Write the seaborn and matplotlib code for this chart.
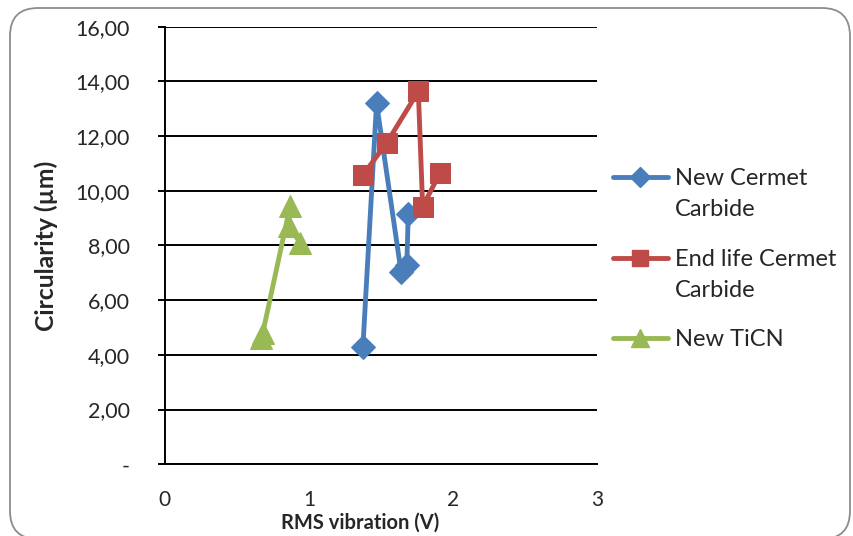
import pandas as pd
import seaborn as sns
import matplotlib.pyplot as plt
from matplotlib.patches import FancyBboxPatch
from matplotlib.lines import Line2D
from matplotlib.transforms import IdentityTransform
from matplotlib.ticker import FuncFormatter

# Values
cermet_new_x = [1.375, 1.47, 1.64, 1.68, 1.69]
cermet_new_y = [4.28, 13.2, 7.04, 7.29, 9.16]

cermet_end_x = [1.377, 1.54, 1.76, 1.79, 1.91]
cermet_end_y = [10.59, 11.75, 13.64, 9.42, 10.65]

ticn_x = [0.67, 0.68, 0.87, 0.86, 0.94]
ticn_y = [4.6, 4.8, 9.45, 8.7, 8.1]

series_names = ["New Cermet\nCarbide", "End life Cermet\nCarbide", "New TiCN"]
colors = ["#4A7EBB", "#BE4B48", "#98B954"]
markers = ["D", "s", "^"]
marker_sizes = [12, 14, 16]

sns.set_style("white")
plt.rcParams['font.family'] = ['Lato', 'DejaVu Sans']

fig = plt.figure(figsize=(8.54, 5.36), dpi=100)
ax = fig.add_axes([0.193, 0.134, 0.506, 0.816])

# Rounded chart border (pixel coordinates)
border = FancyBboxPatch((10, -3), 840, 531,
                        boxstyle="round,pad=0,rounding_size=28",
                        transform=IdentityTransform(), facecolor="none",
                        edgecolor="#8c8c8c", linewidth=1.3, zorder=0)
fig.patches.append(border)

all_x = [cermet_new_x, cermet_end_x, ticn_x]
all_y = [cermet_new_y, cermet_end_y, ticn_y]
for xs, ys, c, m, ms in zip(all_x, all_y, colors, markers, marker_sizes):
    df = pd.DataFrame({"x": xs, "y": ys})
    sns.lineplot(data=df, x="x", y="y", sort=False, ax=ax, color=c,
                 marker=m, markersize=ms, markeredgecolor=c,
                 linewidth=3.5, legend=False)

ax.set_xlim(0, 3)
ax.set_ylim(0, 16)
ax.set_xticks([0, 1, 2, 3])
ax.set_yticks(range(0, 17, 2))
ax.yaxis.set_major_formatter(FuncFormatter(
    lambda v, p: "-" if v == 0 else f"{v:.2f}".replace(".", ",")))
ax.grid(axis="y", color="black", linewidth=1.4)
ax.grid(axis="x", visible=False)
for side in ["top", "right"]:
    ax.spines[side].set_visible(False)
for side in ["left", "bottom"]:
    ax.spines[side].set_color("black")
    ax.spines[side].set_linewidth(1.4)
ax.tick_params(axis="y", which="major", left=True, length=5, width=1.4,
               color="black", labelsize=15.5, pad=20)
ax.tick_params(axis="x", bottom=False, labelsize=15, pad=15)

ax.set_xlabel("RMS vibration (V)", fontsize=14.5, fontweight="bold")
ax.xaxis.set_label_coords(0.451, -0.111)
ax.set_ylabel("Circularity (µm)", fontsize=17.8, fontweight="bold")
ax.yaxis.set_label_coords(-0.248, 0.5)

# Legend drawn to the right of the plot, handle aligned with the first text line
leg_rows = [177, 258, 338]
W, H = 854, 536
for name, c, m, ms, row in zip(series_names, colors, markers, marker_sizes, leg_rows):
    yf = 1 - row / H
    handle = Line2D([613 / W, 640.5 / W, 668 / W], [yf, yf, yf],
                    transform=fig.transFigure, color=c, linewidth=3.5,
                    marker=m, markersize=ms * 0.85, markeredgecolor=c,
                    markevery=[1])
    fig.add_artist(handle)
    fig.text(675 / W, 1 - (row - 9) / H, name, fontsize=17, va="top",
             ha="left", linespacing=1.6)

fig.savefig("out.png", dpi=100)
